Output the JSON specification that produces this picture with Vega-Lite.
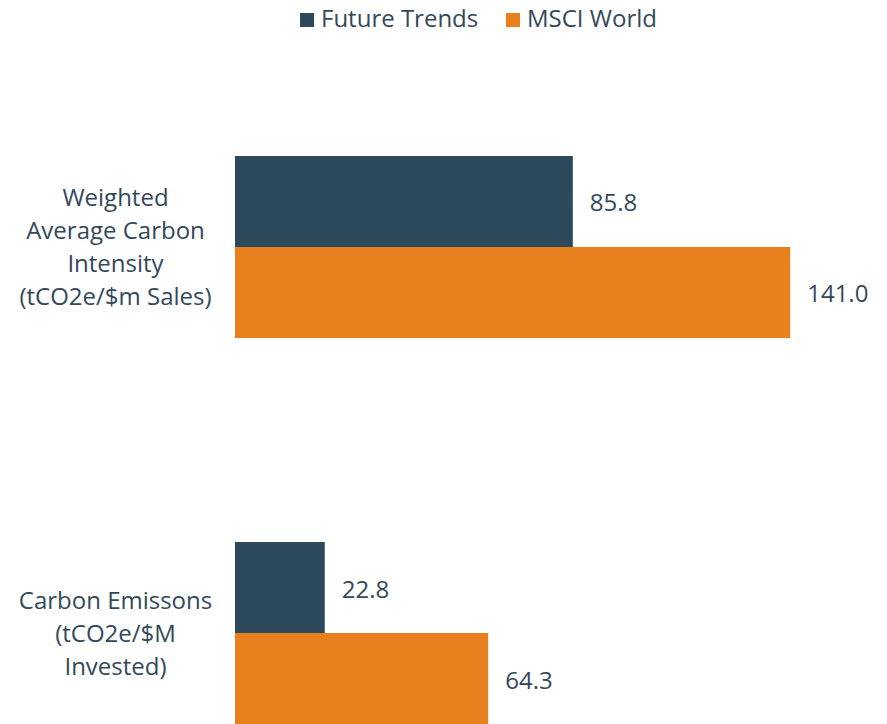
{
  "$schema": "https://vega.github.io/schema/vega-lite/v6.json",
  "width": 630,
  "height": 568,
  "autosize": {"type": "none"},
  "padding": {"left": 235, "top": 156, "right": 22, "bottom": 0},
  "background": "white",
  "config": {
    "view": {"stroke": null},
    "font": "Open Sans"
  },
  "data": {
    "values": [
      {"metric": "WACI", "series": "Future Trends", "value": 85.8},
      {"metric": "WACI", "series": "MSCI World", "value": 141.0},
      {"metric": "Emissions", "series": "Future Trends", "value": 22.8},
      {"metric": "Emissions", "series": "MSCI World", "value": 64.3}
    ]
  },
  "encoding": {
    "y": {
      "field": "metric",
      "type": "nominal",
      "sort": ["WACI", "Emissions"],
      "scale": {"paddingInner": 0.5285, "paddingOuter": 0},
      "axis": {
        "title": null,
        "domain": false,
        "ticks": false,
        "tickSize": 0,
        "labelPadding": 120,
        "labelAlign": "center",
        "labelBaseline": "middle",
        "labelOffset": {"condition": {"test": "datum.value == 'WACI'", "value": -48}, "value": -31},
        "labelFont": "Open Sans",
        "labelFontSize": 24,
        "labelLineHeight": 33,
        "labelColor": "#33495a",
        "labelLimit": 0,
        "labelExpr": "datum.value == 'WACI' ? ['Weighted', 'Average Carbon', 'Intensity', '(tCO2e/$m Sales)'] : ['Carbon Emissons', '(tCO2e/$M', 'Invested)']"
      }
    },
    "yOffset": {
      "field": "series",
      "type": "nominal",
      "sort": ["Future Trends", "MSCI World"],
      "scale": {"paddingInner": 0, "paddingOuter": 0}
    },
    "x": {
      "field": "value",
      "type": "quantitative",
      "scale": {"domain": [0, 160], "nice": false, "zero": true},
      "axis": null
    }
  },
  "layer": [
    {
      "mark": {"type": "bar"},
      "encoding": {
        "color": {
          "field": "series",
          "type": "nominal",
          "scale": {"domain": ["Future Trends", "MSCI World"], "range": ["#2d4a5c", "#e8801e"]},
          "legend": {
            "title": null,
            "orient": "none",
            "direction": "horizontal",
            "legendX": 60,
            "legendY": -148,
            "symbolType": "square",
            "symbolSize": 196,
            "symbolStrokeWidth": 0,
            "symbolOpacity": 1,
            "labelFont": "Open Sans",
            "labelFontSize": 24,
            "labelColor": "#33495a",
            "labelOffset": 2,
            "columnPadding": 22,
            "padding": 0
          }
        }
      }
    },
    {
      "mark": {"type": "text", "align": "left", "baseline": "middle", "dx": 17, "dy": 3, "font": "Open Sans", "fontSize": 24, "color": "#33495a"},
      "encoding": {
        "text": {"field": "value", "type": "quantitative", "format": ".1f"}
      }
    }
  ]
}
